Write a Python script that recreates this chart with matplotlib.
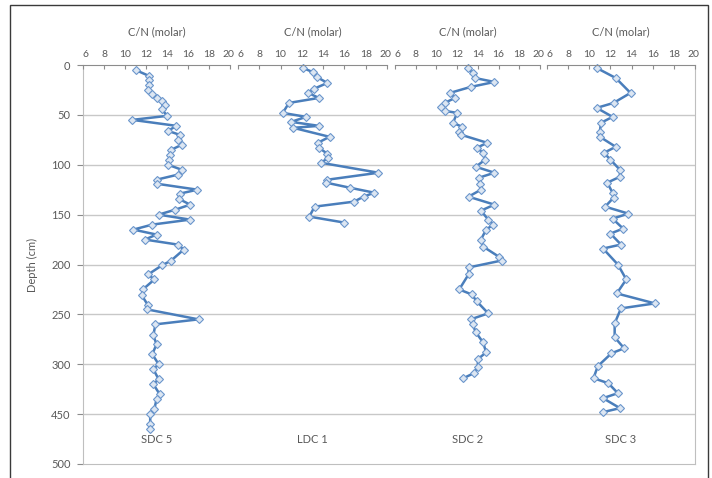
import matplotlib.pyplot as plt
import matplotlib.transforms as mtransforms
from matplotlib.patches import Rectangle

# C/N profiles for each core: depth (axis units) and molar C/N
sdc5_depth = [5, 11, 15, 20, 25, 29, 33, 36, 40, 44, 51, 55, 61, 66, 70, 75, 80, 85, 90, 95,
              100, 105, 110, 115, 119, 125, 129, 134, 140, 145, 150, 155, 160, 165, 170, 175,
              180, 185, 196, 201, 210, 215, 225, 231, 241, 245, 255, 260, 271, 280, 290, 300,
              305, 315, 320, 330, 335, 345, 350, 360, 365]
sdc5_cn = [11.0, 12.3, 12.3, 12.3, 12.2, 12.6, 13.0, 13.5, 13.8, 13.5, 14.0, 10.7, 14.9, 14.1,
           15.2, 15.0, 15.4, 14.4, 14.3, 14.2, 14.1, 15.4, 15.0, 13.0, 13.0, 16.9, 15.2, 15.1,
           16.2, 14.8, 13.2, 16.2, 12.6, 10.8, 13.0, 11.9, 15.0, 15.6, 14.4, 13.5, 12.2, 12.8,
           11.7, 11.6, 12.2, 12.1, 17.0, 12.9, 12.7, 13.0, 12.6, 13.2, 12.7, 13.2, 12.7, 13.3,
           13.0, 12.8, 12.4, 12.4, 12.4]

ldc1_depth = [3, 7, 12, 18, 24, 28, 33, 38, 48, 52, 57, 61, 63, 72, 78, 83, 89, 93, 98, 108,
              115, 118, 123, 128, 132, 137, 142, 152, 158]
ldc1_cn = [12.1, 13.0, 13.4, 14.4, 13.1, 12.6, 13.6, 10.8, 10.2, 12.4, 11.0, 13.6, 11.2, 14.6,
           13.5, 13.6, 14.4, 14.5, 13.8, 19.2, 14.4, 14.3, 16.5, 18.8, 17.8, 16.9, 13.2, 12.7,
           16.0]

sdc2_depth = [3, 8, 13, 17, 22, 28, 33, 38, 42, 46, 48, 58, 62, 67, 70, 78, 83, 88, 95, 102,
              108, 113, 119, 125, 132, 140, 146, 155, 160, 165, 175, 182, 192, 196, 203, 210,
              225, 230, 237, 249, 255, 260, 268, 278, 288, 295, 303, 309, 314]
sdc2_cn = [13.0, 13.5, 13.7, 15.6, 13.3, 11.3, 11.8, 10.8, 10.4, 10.8, 12.0, 11.6, 12.5, 12.2,
           12.4, 14.9, 13.9, 14.5, 14.7, 13.8, 15.6, 14.1, 14.2, 14.3, 13.1, 15.6, 14.3, 15.0,
           15.5, 14.8, 14.3, 14.5, 16.0, 16.3, 13.1, 13.1, 12.2, 13.4, 13.9, 15.0, 13.3, 13.5,
           13.8, 14.5, 14.8, 14.0, 14.0, 13.6, 12.6]

sdc3_depth = [3, 13, 28, 38, 43, 52, 58, 67, 72, 82, 88, 95, 105, 112, 118, 128, 133, 142, 149,
              154, 164, 169, 180, 184, 200, 215, 229, 239, 244, 259, 273, 284, 289, 302, 314,
              319, 329, 334, 344, 348]
sdc3_cn = [10.7, 12.5, 13.9, 12.3, 10.7, 12.2, 11.1, 11.0, 11.0, 12.5, 11.4, 12.0, 12.9, 12.9,
           11.7, 12.2, 12.3, 11.5, 13.7, 12.2, 13.2, 12.0, 13.0, 11.3, 12.7, 13.5, 12.6, 16.2,
           13.0, 12.4, 12.4, 13.3, 12.1, 10.8, 10.4, 11.8, 12.7, 11.3, 12.9, 11.3]

cores = [("SDC 5", sdc5_depth, sdc5_cn),
         ("LDC 1", ldc1_depth, ldc1_cn),
         ("SDC 2", sdc2_depth, sdc2_cn),
         ("SDC 3", sdc3_depth, sdc3_cn)]

depth_ticks = [0, 50, 100, 150, 200, 250, 300, 350, 400]
depth_labels = ["0", "50", "100", "150", "200", "250", "300", "450", "500"]
cn_ticks = [6, 8, 10, 12, 14, 16, 18, 20]

W, H = 712, 478
txt = "#595959"
blue = "#4a7ebb"
plt.rcParams["font.family"] = ["Lato", "DejaVu Sans"]
plt.rcParams["font.size"] = 8

fig = plt.figure(figsize=(W / 100, H / 100), dpi=100)

# outer frame
fig.patches.append(Rectangle((10 / W, -0.05), (708 - 10) / W, 1 - 5 / H + 0.05,
                             transform=fig.transFigure, fill=False,
                             edgecolor="#3a3a3a", lw=1.0, zorder=0))

top, bottom = 65, 464
def fy(py):
    return 1 - py / H

# shared depth axis with gridlines
base = fig.add_axes([83 / W, fy(bottom), (695 - 83) / W, (bottom - top) / H])
base.set_ylim(400, 0)
base.set_xlim(0, 1)
base.set_yticks(depth_ticks)
base.set_yticklabels(depth_labels, color=txt)
base.set_xticks([])
for y in depth_ticks[1:-1]:
    base.axhline(y, color="#c8c8c8", lw=1.0, zorder=0)
base.spines["top"].set_visible(False)
for s in ["left", "right", "bottom"]:
    base.spines[s].set_color("#bfbfbf")
base.tick_params(axis="y", length=4, color="#8c8c8c", pad=5)
base.set_ylabel("Depth (cm)", color=txt, labelpad=9)

panels = [(83, 230), (238, 387), (395, 540), (547, 695)]
for (x0, x1), (name, depth, cn) in zip(panels, cores):
    ax = fig.add_axes([x0 / W, fy(bottom), (x1 - x0) / W, (bottom - top) / H])
    ax.patch.set_alpha(0)
    ax.set_xlim(6, 20)
    ax.set_ylim(400, 0)
    ax.plot(cn, depth, color=blue, lw=1.8, marker="D", ms=3.6,
            mfc="#dce6f2", mec="#6b96cc", mew=0.8, clip_on=False)
    ax.xaxis.tick_top()
    ax.xaxis.set_label_position("top")
    ax.set_xticks(cn_ticks)
    ax.set_xticklabels([str(t) for t in cn_ticks], color=txt, fontsize=7.5)
    ax.tick_params(axis="x", direction="in", length=3, color="#8c8c8c", pad=4)
    # nudge the end labels apart so neighbouring panels don't collide
    labels = ax.get_xticklabels()
    labels[0].set_transform(labels[0].get_transform() +
                            mtransforms.ScaledTranslation(2.5 / 100, 0, fig.dpi_scale_trans))
    labels[-1].set_transform(labels[-1].get_transform() +
                             mtransforms.ScaledTranslation(-1.5 / 100, 0, fig.dpi_scale_trans))
    ax.set_yticks([])
    for s in ["left", "right", "bottom"]:
        ax.spines[s].set_visible(False)
    ax.spines["top"].set_color("#8c8c8c")
    ax.set_xlabel("C/N (molar)", color=txt, labelpad=11)
    ax.text(13, 375, name, ha="center", va="center", color=txt)

fig.savefig("out.png", dpi=100)
